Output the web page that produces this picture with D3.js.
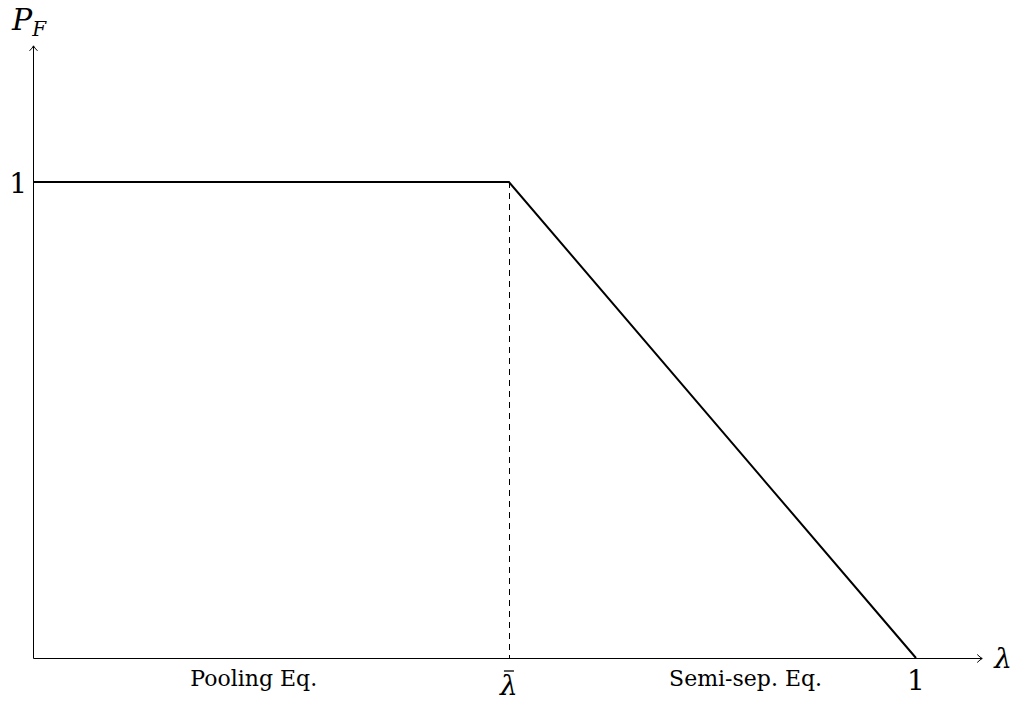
<!DOCTYPE html>
<html>
<head>
<meta charset="utf-8">
<script src="https://cdn.jsdelivr.net/npm/d3@7"></script>
<style>
  body { margin: 0; background: #fff; }
  text { font-family: "DejaVu Serif", serif; fill: #000; }
</style>
</head>
<body>
<div id="chart"></div>
<script>
// piecewise line P_F(lambda)
var lambdaBar = 0.539;
var lineX = [0, lambdaBar, 1];
var lineY = [1, 1, 0];

// region labels along the x axis
var regionNames = ["Pooling Eq.", "Semi-sep. Eq."];
var regionAt = [0.25, 0.807];

var width = 1021, height = 704;

var svg = d3.select("#chart").append("svg")
    .attr("width", width)
    .attr("height", height);

var x = d3.scaleLinear().domain([0, 1]).range([33, 916]);
var y = d3.scaleLinear().domain([0, 1]).range([658, 182]);

// snap thin lines to the pixel grid
function px(v) { return Math.round(v) + 0.5; }

var xMax = 1.075, yMax = 1.286;
var x0 = px(x(0)), y0 = px(y(0));

var axes = svg.append("g").attr("stroke", "#000").attr("fill", "none").attr("stroke-width", 1);

// x axis
var xe = x(xMax);
axes.append("line")
    .attr("x1", x0).attr("y1", y0)
    .attr("x2", xe).attr("y2", y0);
axes.append("path")
    .attr("d", "M" + (xe - 5) + "," + (y0 - 4) + " Q" + (xe - 2) + "," + (y0 - 1) + " " + xe + "," + y0
             + " Q" + (xe - 2) + "," + (y0 + 1) + " " + (xe - 5) + "," + (y0 + 4));

// y axis
var ye = y(yMax);
axes.append("line")
    .attr("x1", x0).attr("y1", y0)
    .attr("x2", x0).attr("y2", ye);
axes.append("path")
    .attr("d", "M" + (x0 - 4) + "," + (ye + 5) + " Q" + (x0 - 1) + "," + (ye + 2) + " " + x0 + "," + ye
             + " Q" + (x0 + 1) + "," + (ye + 2) + " " + (x0 + 4) + "," + (ye + 5));

// dashed guide at lambda bar
svg.append("line")
    .attr("x1", px(x(lambdaBar))).attr("y1", y(1))
    .attr("x2", px(x(lambdaBar))).attr("y2", y(0))
    .attr("stroke", "#000")
    .attr("stroke-width", 1)
    .attr("stroke-dasharray", "6,5");

// main line
var line = d3.line()
    .x(function(d, i) { return x(lineX[i]); })
    .y(function(d, i) { return y(lineY[i]); });

svg.append("path")
    .datum(lineX)
    .attr("d", line)
    .attr("fill", "none")
    .attr("stroke", "#000")
    .attr("stroke-width", 2);

// tick labels
svg.append("text")
    .attr("x", x(0) - 6).attr("y", y(1) + 11)
    .attr("text-anchor", "end")
    .attr("font-size", 28)
    .text("1");

svg.append("text")
    .attr("x", x(1)).attr("y", y(0) + 32)
    .attr("text-anchor", "middle")
    .attr("font-size", 28)
    .text("1");

// lambda bar
svg.append("text")
    .attr("x", x(lambdaBar)).attr("y", y(0) + 37)
    .attr("text-anchor", "middle")
    .attr("font-size", 28)
    .attr("font-style", "italic")
    .text("λ");
svg.append("line")
    .attr("x1", x(lambdaBar) - 5).attr("x2", x(lambdaBar) + 5)
    .attr("y1", y(0) + 13).attr("y2", y(0) + 13)
    .attr("stroke", "#000").attr("stroke-width", 1.3);

// axis titles
svg.append("text")
    .attr("x", x(xMax) + 12).attr("y", y(0) + 10)
    .attr("font-size", 28)
    .attr("font-style", "italic")
    .text("λ");

var pf = svg.append("text")
    .attr("x", 12).attr("y", 30)
    .attr("font-size", 30)
    .attr("font-style", "italic");
pf.append("tspan").text("P");
pf.append("tspan").attr("font-size", 20).attr("dy", 6).text("F");

// region labels
svg.selectAll("text.region")
    .data(regionNames)
    .enter()
    .append("text")
    .classed("region", true)
    .attr("x", function(d, i) { return x(regionAt[i]); })
    .attr("y", y(0) + 28)
    .attr("text-anchor", "middle")
    .attr("font-size", 22)
    .text(function(d) { return d; });
</script>
</body>
</html>
